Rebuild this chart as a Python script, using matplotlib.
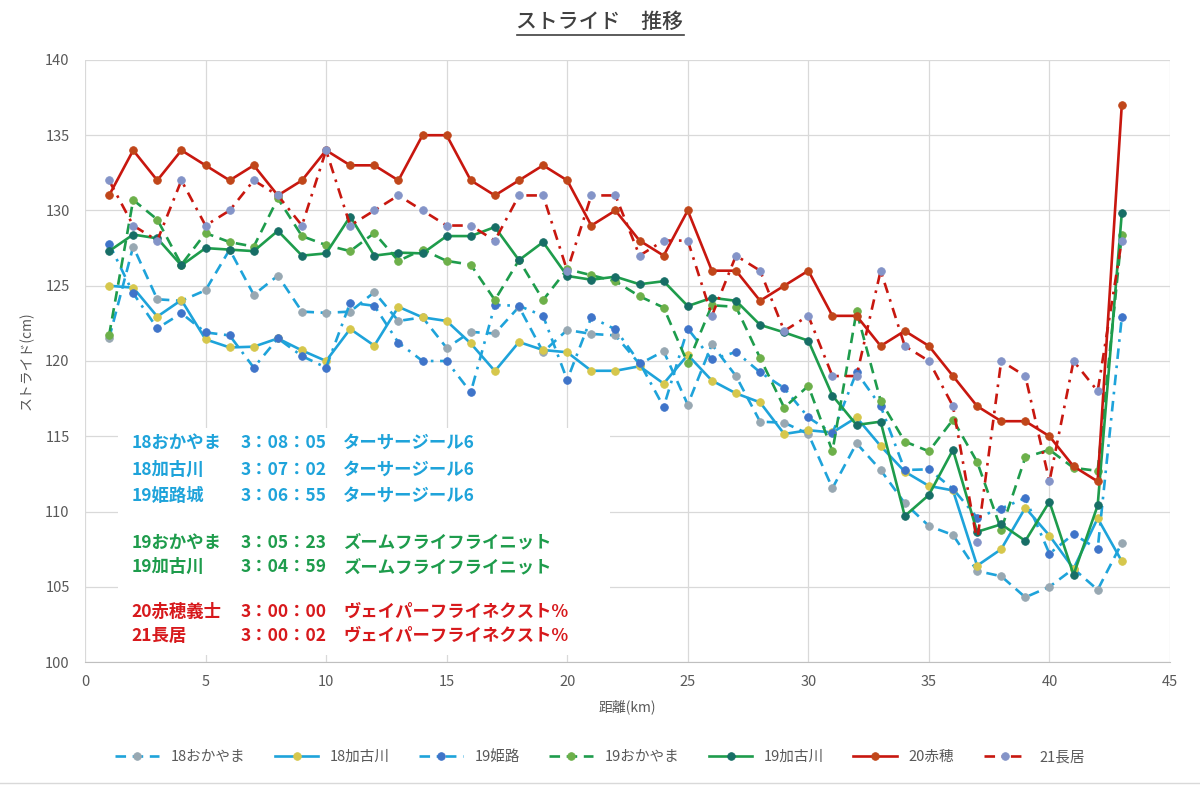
import matplotlib
matplotlib.use("Agg")
import matplotlib.pyplot as plt
from matplotlib.lines import Line2D
from matplotlib.patches import Rectangle

plt.rcParams['font.family'] = ['Noto Sans CJK JP', 'DejaVu Sans']

km = list(range(1, 44))

okayama18 = [121.5, 127.6, 124.1, 124.0, 124.7, 127.4, 124.4, 125.67, 123.28, 123.2,
             123.28, 124.57, 122.66, 122.9, 120.87, 121.93, 121.83, 123.6, 120.6, 122.06,
             121.8, 121.7, 119.8, 120.65, 117.1, 121.1, 119.0, 115.97, 115.9, 115.15,
             111.55, 114.53, 112.76, 110.55, 109.04, 108.44, 106.05, 105.7, 104.3, 105.0,
             106.2, 104.8, 107.9]
kakogawa18 = [125.0, 124.87, 122.95, 124.05, 121.44, 120.9, 120.95, 121.5, 120.7, 120.0,
              122.13, 121.02, 123.6, 122.9, 122.66, 121.17, 119.33, 121.26, 120.73, 120.58,
              119.35, 119.35, 119.65, 118.5, 120.4, 118.7, 117.85, 117.25, 115.15, 115.4,
              115.25, 116.25, 114.35, 112.65, 111.7, 111.4, 106.4, 107.5, 110.25, 108.4,
              106.2, 109.55, 106.7]
himeji19 = [127.8, 124.5, 122.17, 123.17, 121.9, 121.7, 119.56, 121.5, 120.33, 119.56,
            123.87, 123.67, 121.22, 120.0, 120.0, 117.92, 123.72, 123.67, 123.0, 118.74,
            122.9, 122.1, 119.9, 116.95, 122.15, 120.1, 120.6, 119.25, 118.2, 116.25,
            115.2, 119.25, 117.0, 112.76, 112.8, 111.5, 109.6, 110.2, 110.9, 107.2,
            108.5, 107.5, 122.9]
okayama19 = [121.7, 130.7, 129.4, 126.4, 128.5, 127.9, 127.6, 130.8, 128.3, 127.7,
             127.3, 128.5, 126.65, 127.4, 126.65, 126.4, 124.05, 126.7, 124.05, 126.1,
             125.7, 125.3, 124.3, 123.55, 119.85, 123.7, 123.6, 120.2, 116.9, 118.35,
             114.0, 123.3, 117.35, 114.65, 114.0, 116.1, 113.3, 108.8, 113.6, 114.1,
             112.9, 112.7, 128.4]
kakogawa19 = [127.3, 128.4, 128.15, 126.35, 127.5, 127.4, 127.3, 128.65, 127.0, 127.15,
              129.6, 127.0, 127.2, 127.15, 128.3, 128.3, 128.9, 126.7, 127.9, 125.65,
              125.4, 125.6, 125.1, 125.3, 123.65, 124.2, 124.0, 122.4, 121.9, 121.35,
              117.7, 115.75, 115.97, 109.7, 111.1, 114.1, 108.65, 109.15, 108.05, 110.65,
              105.8, 110.4, 129.8]
ako20 = [131, 134, 132, 134, 133, 132, 133, 131, 132, 134,
         133, 133, 132, 135, 135, 132, 131, 132, 133, 132,
         129, 130, 128, 127, 130, 126, 126, 124, 125, 126,
         123, 123, 121, 122, 121, 119, 117, 116, 116, 115,
         113, 112, 137]
nagai21 = [132, 129, 128, 132, 129, 130, 132, 131, 129, 134,
           129, 130, 131, 130, 129, 129, 128, 131, 131, 126,
           131, 131, 127, 128, 128, 123, 127, 126, 122, 123,
           119, 119, 126, 121, 120, 117, 108, 120, 119, 112,
           120, 118, 128]

labels = ["18おかやま", "18加古川", "19姫路", "19おかやま", "19加古川", "20赤穂", "21長居"]

note_rows = [
    ("18おかやま", "3：08：05", "ターサージール6"),
    ("18加古川", "3：07：02", "ターサージール6"),
    ("19姫路城", "3：06：55", "ターサージール6"),
    ("19おかやま", "3：05：23", "ズームフライフライニット"),
    ("19加古川", "3：04：59", "ズームフライフライニット"),
    ("20赤穂義士", "3：00：00", "ヴェイパーフライネクスト%"),
    ("21長居", "3：00：02", "ヴェイパーフライネクスト%"),
]

BLUE = "#1EA3DA"
GREEN = "#1E9C4C"
RED = "#C8170F"
dash = (0, (4, 2.5))
dashdot = (0, (4, 2.5, 1, 2.5))

styles = [
    (okayama18, BLUE, dash, "#98A8B2"),
    (kakogawa18, BLUE, "-", "#D6C74C"),
    (himeji19, BLUE, dashdot, "#3F74C9"),
    (okayama19, GREEN, dash, "#6DB04A"),
    (kakogawa19, GREEN, "-", "#176E66"),
    (ako20, RED, "-", "#C0461A"),
    (nagai21, RED, dashdot, "#8494C8"),
]

fig = plt.figure(figsize=(12, 7.87), dpi=100)
ax = fig.add_axes([0.0708, 0.1588, 0.9042, 0.765])

for (vals, col, ls, mc), lab in zip(styles, labels):
    ax.plot(km, vals, color=col, linestyle=ls, linewidth=1.9,
            marker="o", markersize=5.5, markerfacecolor=mc,
            markeredgecolor=mc, markeredgewidth=0.6, label=lab, zorder=3)

ax.set_xlim(0, 45)
ax.set_ylim(100, 140)
ax.set_xticks(range(0, 46, 5))
ax.set_yticks(range(100, 141, 5))
ax.grid(True, color="#D9D9D9", linewidth=0.9, zorder=0)
ax.set_axisbelow(True)
for s in ["top", "right", "left"]:
    ax.spines[s].set_visible(False)
ax.spines["bottom"].set_color("#BFBFBF")
ax.tick_params(length=0, labelcolor="#595959", labelsize=10.5)
ax.tick_params(axis="y", pad=11)
ax.tick_params(axis="x", pad=9)
ax.set_xlabel("距離(km)", color="#595959", fontsize=10, labelpad=8)
ax.set_ylabel("ストライド(cm)", color="#595959", fontsize=10, labelpad=8)

# white note box with race times
ax.add_patch(Rectangle((0.030, 0.012), 0.454, 0.377, transform=ax.transAxes,
                       facecolor="white", edgecolor="none", zorder=1.5))
row_y = [0.364, 0.319, 0.276, 0.198, 0.158, 0.083, 0.043]
row_c = [BLUE, BLUE, BLUE, GREEN, GREEN, "#D7191C", "#D7191C"]
for (name, t, shoe), yy, c in zip(note_rows, row_y, row_c):
    for xx, s in zip([0.043, 0.143, 0.238], [name, t, shoe]):
        ax.text(xx, yy, s, transform=ax.transAxes, color=c, fontsize=12.5,
                fontweight="bold", va="center", ha="left", zorder=4)

fig.legend(loc="center", bbox_to_anchor=(0.5, 0.038), ncol=7, frameon=False,
           fontsize=10.5, handlelength=3.0, columnspacing=2.0, labelcolor="#595959")

title = fig.text(0.5, 0.972, "ストライド　推移", ha="center", va="center",
                 fontsize=15, color="#404040", fontweight="medium")
fig.canvas.draw()
bb = title.get_window_extent().transformed(fig.transFigure.inverted())
fig.add_artist(Line2D([bb.x0, bb.x1], [bb.y0 - 0.002, bb.y0 - 0.002],
                      transform=fig.transFigure, color="#404040", linewidth=1.2))

fig.add_artist(Line2D([0, 1], [0.005, 0.005], transform=fig.transFigure,
                      color="#D9D9D9", linewidth=1))

fig.savefig("out.png", dpi=100)
